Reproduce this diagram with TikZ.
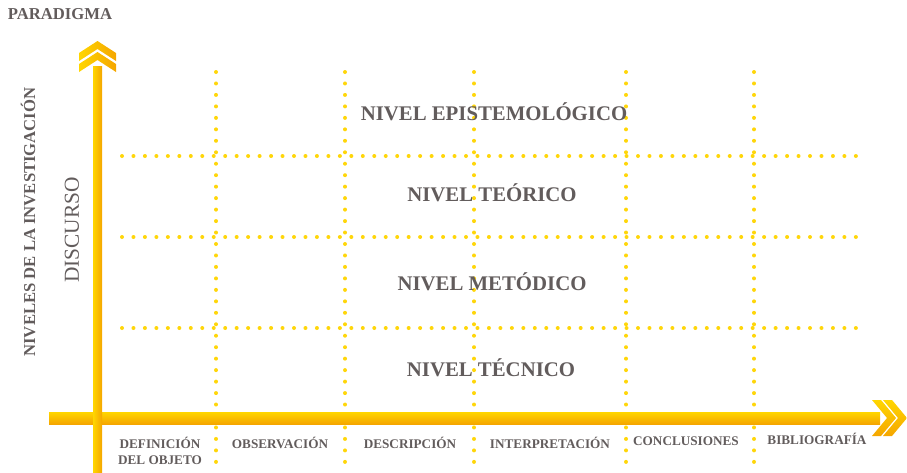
\documentclass[tikz,border=0pt]{standalone}
\usepackage{fontspec}
\setmainfont{Liberation Serif}
\usetikzlibrary{positioning,calc}
\definecolor{axisyellow}{RGB}{255,214,0}
\definecolor{axisorange}{RGB}{245,166,0}
\definecolor{dotyellow}{RGB}{255,214,10}
\definecolor{textgray}{RGB}{98,92,92}

\begin{document}
\begin{tikzpicture}[x=0.75pt, y=-0.75pt,
    level/.style={font=\fontsize{15.6}{18}\selectfont\bfseries, text=textgray},
    phase/.style={font=\fontsize{9.9}{11.5}\selectfont\bfseries, text=textgray, align=center},
    axislabel/.style={font=\fontsize{12.5}{14}\selectfont\bfseries, text=textgray},
    gridline/.style={dotyellow, line width=3pt, line cap=round, dash pattern=on 0pt off 8.6pt}
]
\useasboundingbox (0,0) rectangle (907,472);

% Grid of dotted lines
\foreach \x/\name in {216/ga, 345/gb, 474/gc, 626/gd, 754/ge} {
    \coordinate (\name-top) at (\x, 72);
    \coordinate (\name-bot) at (\x, 472);
    \draw[gridline] (\name-top) -- (\name-bot);
}
\foreach \y/\name in {156/ha, 237/hb, 328/hc} {
    \coordinate (\name-left) at (122, \y);
    \coordinate (\name-right) at (862, \y);
    \draw[gridline] (\name-left) -- (\name-right);
}

% Horizontal axis with double chevron
\shade[top color=axisyellow, bottom color=axisorange] (49,412) rectangle (880,424);
\foreach \d in {0, 11} {
    \shade[top color=axisyellow, bottom color=axisorange]
        (872+\d,400) -- (881+\d,400) -- (896+\d,418) -- (881+\d,436) -- (872+\d,436) -- (887+\d,418) -- cycle;
}

% Vertical axis with double chevron
\shade[left color=axisyellow, right color=axisorange] (93,66) rectangle (102,472);
\foreach \d in {0, 11} {
    \shade[left color=axisyellow, right color=axisorange]
        (79,53+\d) -- (97.5,41+\d) -- (116,53+\d) -- (116,61+\d) -- (97.5,49+\d) -- (79,61+\d) -- cycle;
}

% Axis labels
\node[axislabel] (paradigma) at (60,14) {PARADIGMA};
\node[axislabel, rotate=90] (niveles) at (28,222) {NIVELES DE LA INVESTIGACIÓN};
\node[font=\fontsize{16}{18}\selectfont, text=textgray, rotate=90] (discurso) at (72,230) {DISCURSO};

% Levels
\node[level] (epistemologico) at (494,112) {NIVEL EPISTEMOLÓGICO};
\node[level] (teorico) at (492,193) {NIVEL TEÓRICO};
\node[level] (metodico) at (492,282) {NIVEL METÓDICO};
\node[level] (tecnico) at (491,368) {NIVEL TÉCNICO};

% Phases
\node[phase] (definicion) at (160,451) {DEFINICIÓN\\DEL OBJETO};
\node[phase] (observacion) at (280,443) {OBSERVACIÓN};
\node[phase] (descripcion) at (410,443) {DESCRIPCIÓN};
\node[phase] (interpretacion) at (550,443) {INTERPRETACIÓN};
\node[phase] (conclusiones) at (686,441) {CONCLUSIONES};
\node[phase] (bibliografia) at (817,439) {BIBLIOGRAFÍA};

\end{tikzpicture}
\end{document}
